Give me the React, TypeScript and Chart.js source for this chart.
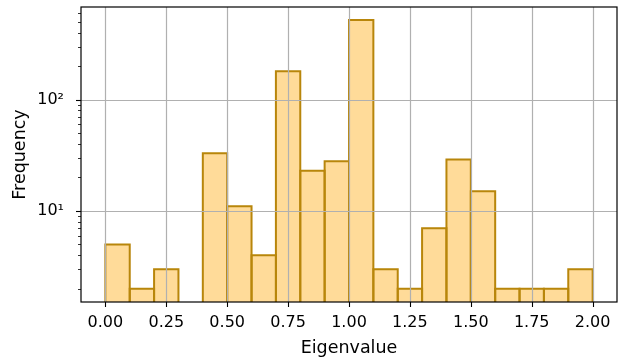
import React, { useEffect, useRef } from 'react';
import { Chart, registerables } from 'chart.js';
Chart.register(...registerables);

// Histogram bins (left edges) and counts
const binStarts = [0.0, 0.1, 0.2, 0.3, 0.4, 0.5, 0.6, 0.7, 0.8, 0.9, 1.0, 1.1, 1.2, 1.3, 1.4, 1.5, 1.6, 1.7, 1.8, 1.9];
const binWidth = 0.1;
const frequencies: (number | null)[] = [5, 2, 3, null, 33, 11, 4, 180, 23, 28, 520, 3, 2, 7, 29, 15, 2, 2, 2, 3];

const xTicks = [0, 0.25, 0.5, 0.75, 1.0, 1.25, 1.5, 1.75, 2.0];
const yMajorTicks = [10, 100];
const yMinorTicks = [2, 3, 4, 5, 6, 7, 8, 9, 20, 30, 40, 50, 60, 70, 80, 90, 200, 300, 400, 500, 600];
const xRange = [-0.1, 2.1];
const yRange = [1.52, 681];

const xLabel = 'Eigenvalue';
const yLabel = 'Frequency';

const FONT = 'DejaVu Sans';
const TICK_SIZE = 16;
const LABEL_SIZE = 17.5;
const FILL = 'rgba(255, 165, 0, 0.4)';
const EDGE = '#B8860B';
const GRID = '#b0b0b0';

const overlay = {
  id: 'overlay',
  afterDatasetsDraw(chart: any) {
    const ctx = chart.ctx;
    const area = chart.chartArea;
    const xs = chart.scales.x;
    const ys = chart.scales.y;
    ctx.save();
    ctx.beginPath();
    ctx.rect(area.left, area.top, area.right - area.left, area.bottom - area.top);
    ctx.clip();
    const meta = chart.getDatasetMeta(0);
    ctx.strokeStyle = EDGE;
    ctx.lineWidth = 2;
    ctx.lineJoin = 'miter';
    meta.data.forEach((el: any, i: number) => {
      if (frequencies[i] == null) return;
      const p = el.getProps(['x', 'y', 'base', 'width'], true);
      const l = p.x - p.width / 2;
      const r = p.x + p.width / 2;
      ctx.beginPath();
      ctx.moveTo(l, p.base + 5);
      ctx.lineTo(l, p.y);
      ctx.lineTo(r, p.y);
      ctx.lineTo(r, p.base + 5);
      ctx.stroke();
    });
    ctx.strokeStyle = GRID;
    ctx.lineWidth = 1.2;
    xTicks.forEach((v) => {
      const px = Math.round(xs.getPixelForValue(v)) + 0.5;
      ctx.beginPath();
      ctx.moveTo(px, area.top);
      ctx.lineTo(px, area.bottom);
      ctx.stroke();
    });
    yMajorTicks.forEach((v) => {
      const py = Math.round(ys.getPixelForValue(v)) + 0.5;
      ctx.beginPath();
      ctx.moveTo(area.left, py);
      ctx.lineTo(area.right, py);
      ctx.stroke();
    });
    ctx.restore();
    ctx.save();
    ctx.strokeStyle = '#000';
    ctx.lineWidth = 1.2;
    ctx.strokeRect(area.left, area.top, area.right - area.left, area.bottom - area.top);
    ctx.lineWidth = 1.1;
    xTicks.forEach((v) => {
      const px = Math.round(xs.getPixelForValue(v)) + 0.5;
      ctx.beginPath();
      ctx.moveTo(px, area.bottom);
      ctx.lineTo(px, area.bottom + 5);
      ctx.stroke();
    });
    yMajorTicks.forEach((v) => {
      const py = Math.round(ys.getPixelForValue(v)) + 0.5;
      ctx.beginPath();
      ctx.moveTo(area.left, py);
      ctx.lineTo(area.left - 5, py);
      ctx.stroke();
    });
    ctx.lineWidth = 0.8;
    yMinorTicks.forEach((v) => {
      const py = Math.round(ys.getPixelForValue(v)) + 0.5;
      ctx.beginPath();
      ctx.moveTo(area.left, py);
      ctx.lineTo(area.left - 3, py);
      ctx.stroke();
    });
    ctx.restore();
  },
};

export default function App() {
  const ref = useRef<HTMLCanvasElement>(null);
  useEffect(() => {
    if (!ref.current) return;
    const chart = new Chart(ref.current, {
      type: 'bar',
      data: {
        datasets: [
          {
            data: binStarts.map((s, i) => ({ x: s + binWidth / 2, y: frequencies[i] })) as any,
            backgroundColor: FILL,
            borderWidth: 0,
            barPercentage: 1,
            categoryPercentage: 1,
          },
        ],
      },
      options: {
        animation: false,
        responsive: false,
        maintainAspectRatio: false,
        events: [],
        layout: { padding: { left: 0, top: 7, right: 9, bottom: 0 } },
        plugins: { legend: { display: false }, tooltip: { enabled: false } },
        scales: {
          x: {
            type: 'linear',
            min: xRange[0],
            max: xRange[1],
            offset: false,
            afterBuildTicks: (s: any) => {
              s.ticks = xTicks.map((v) => ({ value: v }));
            },
            afterFit: (s: any) => {
              s.height = 60;
              s.paddingLeft = 0;
              s.paddingRight = 0;
            },
            ticks: {
              autoSkip: false,
              maxRotation: 0,
              padding: 3,
              color: '#000',
              font: { family: FONT, size: TICK_SIZE },
              callback: (v: any) => Number(v).toFixed(2),
            },
            grid: { display: false },
            border: { display: false },
            title: {
              display: true,
              text: xLabel,
              color: '#000',
              font: { family: FONT, size: LABEL_SIZE },
              padding: { top: 4, bottom: 3 },
            },
          },
          y: {
            type: 'logarithmic',
            min: yRange[0],
            max: yRange[1],
            afterBuildTicks: (s: any) => {
              s.ticks = [...yMinorTicks, ...yMajorTicks].sort((a, b) => a - b).map((v) => ({ value: v }));
            },
            afterFit: (s: any) => {
              s.width = 81;
              s.paddingTop = 0;
              s.paddingBottom = 0;
            },
            ticks: {
              autoSkip: false,
              padding: 9,
              color: '#000',
              font: { family: FONT, size: TICK_SIZE },
              callback: (v: any) => (v === 10 ? '10¹' : v === 100 ? '10²' : ''),
            },
            grid: { display: false },
            border: { display: false },
            title: {
              display: true,
              text: yLabel,
              color: '#000',
              font: { family: FONT, size: LABEL_SIZE },
              padding: { top: 10, bottom: 4 },
            },
          },
        },
      },
      plugins: [overlay],
    });
    return () => chart.destroy();
  }, []);
  return (
    <div style={{ position: 'fixed', left: 0, top: 0, width: 626, height: 362, background: '#fff' }}>
      <canvas ref={ref} width={626} height={362} style={{ width: 626, height: 362 }} />
    </div>
  );
}
